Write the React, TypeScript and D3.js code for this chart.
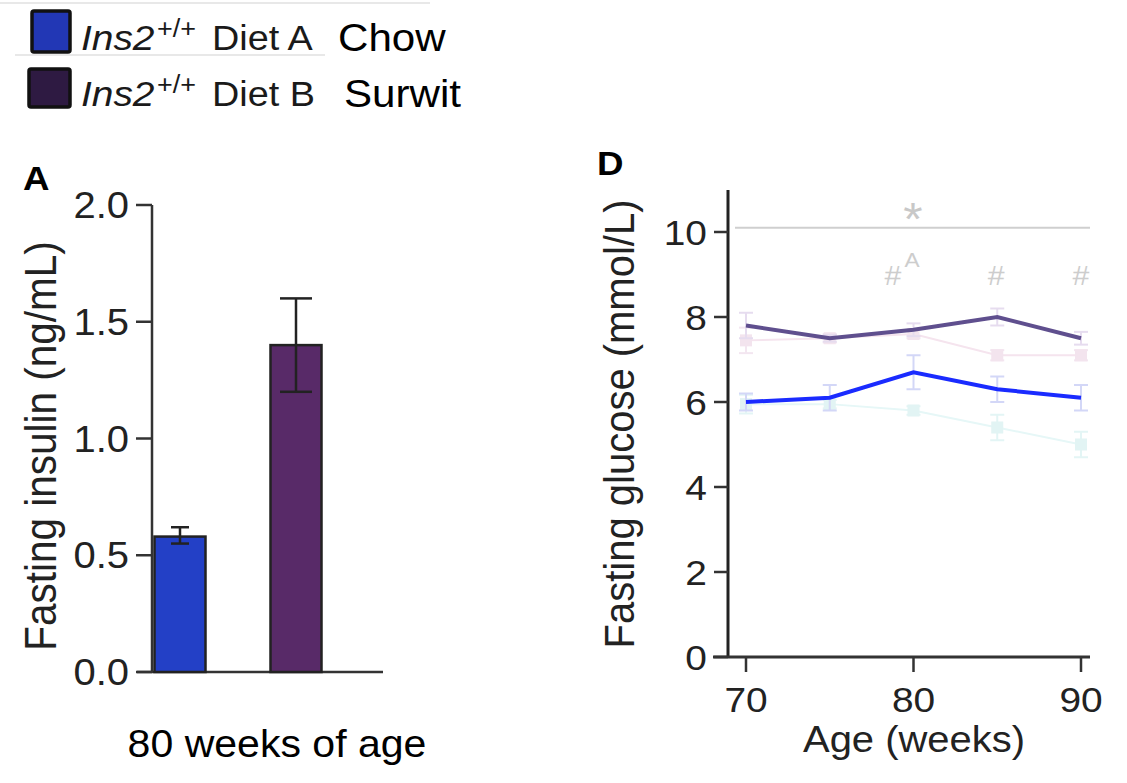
import React from "react";
import * as d3 from "d3";

const barGroups = ["Diet A", "Diet B"];
const barValues = [0.58, 1.4];
const barErrLow = [0.55, 1.2];
const barErrHigh = [0.62, 1.6];
const barColors = ["#2340c6", "#582a68"];
const barCapHalf = [9, 16];
const insulinTicks = [0, 0.5, 1.0, 1.5, 2.0];

const ages = [70, 75, 80, 85, 90];
const purpleVals = [7.8, 7.5, 7.7, 8.0, 7.5];
const purpleErr = [0.3, 0.08, 0.15, 0.2, 0.15];
const blueVals = [6.0, 6.1, 6.7, 6.3, 6.1];
const blueErr = [0.2, 0.3, 0.4, 0.3, 0.3];
const pinkVals = [7.45, 7.5, 7.6, 7.1, 7.1];
const pinkErr = [0.3, 0.1, 0.1, 0.12, 0.12];
const cyanVals = [5.95, 5.95, 5.8, 5.4, 5.0];
const cyanErr = [0.22, 0.1, 0.1, 0.3, 0.3];
const glucoseTicks = [0, 2, 4, 6, 8, 10];
const ageTicks = [70, 80, 90];
const sigLevel = 10.1;

const FONT = "'Liberation Sans', Arial, Helvetica, sans-serif";
const SX = 1.08;

type TP = {
  x: number;
  y: number;
  size: number;
  anchor?: "start" | "middle" | "end";
  rot?: boolean;
  fill?: string;
  weight?: string;
  italic?: boolean;
  children: React.ReactNode;
};

function T({ x, y, size, anchor = "start", rot = false, fill = "#1a1a1a", weight, italic, children }: TP) {
  return (
    <text
      transform={`translate(${x},${y}) scale(${SX},1)${rot ? " rotate(-90)" : ""}`}
      fontSize={size}
      textAnchor={anchor}
      fill={fill}
      fontWeight={weight}
      fontStyle={italic ? "italic" : undefined}
    >
      {children}
    </text>
  );
}

export default function App() {
  // Panel A scales
  const yA = d3.scaleLinear().domain([0, 2]).range([672, 205]);
  const xA = d3.scaleOrdinal<string, number>().domain(barGroups).range([180, 296]);
  const bw = 51;
  const axA = 152;

  // Panel D scales
  const yD = d3.scaleLinear().domain([0, 10]).range([657, 232]);
  const xD = d3.scaleLinear().domain([70, 90]).range([746, 1081]);
  const axD = 728;
  const line = d3
    .line<number>()
    .x((_, i) => xD(ages[i]))
    .y((d) => yD(d));

  const errBars = (vals: number[], errs: number[], color: string, key: string) =>
    vals.map((v, i) => {
      const x = xD(ages[i]);
      const y1 = yD(v - errs[i]);
      const y2 = yD(v + errs[i]);
      return (
        <g key={key + i} stroke={color} strokeWidth={2}>
          <line x1={x} x2={x} y1={y1} y2={y2} />
          <line x1={x - 7} x2={x + 7} y1={y1} y2={y1} />
          <line x1={x - 7} x2={x + 7} y1={y2} y2={y2} />
        </g>
      );
    });

  const markers = (vals: number[], color: string, key: string) =>
    vals.map((v, i) => (
      <rect key={key + i} x={xD(ages[i]) - 6} y={yD(v) - 6} width={12} height={12} fill={color} />
    ));

  return (
    <svg
      width={1127}
      height={783}
      style={{ position: "absolute", left: 0, top: 0, background: "#fff" }}
      fontFamily={FONT}
    >
      {/* Legend */}
      <line x1={0} x2={430} y1={3} y2={3} stroke="#e8e8e8" strokeWidth={2} />
      <line x1={15} x2={325} y1={55} y2={55} stroke="#e8e8e8" strokeWidth={2} />
      <rect x={32} y={11} width={38} height={41} fill="#2237b5" stroke="#111" strokeWidth={3.5} rx={2} />
      <T x={81} y={50} size={36} italic>Ins2</T>
      <T x={157} y={37} size={25}>+/+</T>
      <T x={212} y={50} size={35}>Diet A</T>
      <T x={338} y={51} size={39} fill="#000">Chow</T>
      <rect x={29} y={69} width={41} height={38} fill="#2e1a42" stroke="#111" strokeWidth={3.5} rx={2} />
      <T x={81} y={106} size={36} italic>Ins2</T>
      <T x={157} y={93} size={25}>+/+</T>
      <T x={212} y={106} size={35}>Diet B</T>
      <T x={344} y={107} size={39} fill="#000">Surwit</T>

      {/* Panel A */}
      <T x={23} y={190} size={34} weight="bold" fill="#000">A</T>
      <line x1={axA} x2={axA} y1={yA(2)} y2={yA(0)} stroke="#333" strokeWidth={2.5} />
      <line x1={137} x2={383} y1={yA(0)} y2={yA(0)} stroke="#333" strokeWidth={2.5} />
      {insulinTicks.map((t) => (
        <g key={"ta" + t}>
          <line x1={136} x2={axA} y1={yA(t)} y2={yA(t)} stroke="#333" strokeWidth={2.5} />
          <T x={129} y={yA(t) + 13} size={37} anchor="end" fill="#222">
            {t.toFixed(1)}
          </T>
        </g>
      ))}
      <T x={56} y={446} size={40.5} anchor="middle" rot fill="#222">
        Fasting insulin (ng/mL)
      </T>
      {barGroups.map((g, i) => {
        const cx = xA(g);
        return (
          <g key={g}>
            <rect
              x={cx - bw / 2}
              y={yA(barValues[i])}
              width={bw}
              height={yA(0) - yA(barValues[i])}
              fill={barColors[i]}
              stroke="#222"
              strokeWidth={2.5}
            />
            <g stroke="#222" strokeWidth={2.5}>
              <line x1={cx} x2={cx} y1={yA(barErrLow[i])} y2={yA(barErrHigh[i])} />
              <line x1={cx - barCapHalf[i]} x2={cx + barCapHalf[i]} y1={yA(barErrLow[i])} y2={yA(barErrLow[i])} />
              <line x1={cx - barCapHalf[i]} x2={cx + barCapHalf[i]} y1={yA(barErrHigh[i])} y2={yA(barErrHigh[i])} />
            </g>
          </g>
        );
      })}
      <T x={277} y={757} size={38} anchor="middle" fill="#000">80 weeks of age</T>

      {/* Panel D */}
      <T x={597} y={175} size={34} weight="bold" fill="#000">D</T>
      <line x1={axD} x2={axD} y1={190} y2={yD(0)} stroke="#222" strokeWidth={3} />
      <line x1={713} x2={1090} y1={yD(0)} y2={yD(0)} stroke="#333" strokeWidth={3} />
      {glucoseTicks.map((t) => (
        <g key={"td" + t}>
          <line x1={714} x2={axD} y1={yD(t)} y2={yD(t)} stroke="#333" strokeWidth={2.5} />
          <T x={707} y={yD(t) + 13} size={36} anchor="end" fill="#222">
            {t}
          </T>
        </g>
      ))}
      {ageTicks.map((t) => (
        <g key={"tx" + t}>
          <line x1={xD(t)} x2={xD(t)} y1={yD(0)} y2={yD(0) + 15} stroke="#333" strokeWidth={2.5} />
          <T x={xD(t)} y={712} size={36} anchor="middle" fill="#222">
            {t}
          </T>
        </g>
      ))}
      <T x={914} y={752} size={37} anchor="middle" fill="#222">Age (weeks)</T>
      <T x={634} y={424} size={40} anchor="middle" rot fill="#222">
        Fasting glucose (mmol/L)
      </T>

      {/* significance */}
      <line x1={735} x2={1090} y1={yD(sigLevel)} y2={yD(sigLevel)} stroke="#cfcfcf" strokeWidth={2} />
      <T x={913} y={235} size={46} anchor="middle" fill="#c8c8c8">*</T>
      <T x={893} y={285} size={28} anchor="middle" fill="#cdcdcd">#</T>
      <T x={912} y={267} size={21} anchor="middle" fill="#cdcdcd">A</T>
      <T x={xD(85) - 1} y={285} size={28} anchor="middle" fill="#cdcdcd">#</T>
      <T x={xD(90)} y={285} size={28} anchor="middle" fill="#cdcdcd">#</T>

      {/* faded series */}
      {errBars(pinkVals, pinkErr, "#f3e6f0", "pe")}
      <path d={line(pinkVals) || ""} fill="none" stroke="#f5e4ee" strokeWidth={2} />
      {markers(pinkVals, "#f3e4ee", "pm")}
      {errBars(cyanVals, cyanErr, "#e3f5f5", "ce")}
      <path d={line(cyanVals) || ""} fill="none" stroke="#e6f7f7" strokeWidth={2} />
      {markers(cyanVals, "#e2f4f4", "cm")}

      {errBars(purpleVals, purpleErr, "#e6dcef", "pue")}
      {errBars(blueVals, blueErr, "#d3d7f7", "be")}

      <path d={line(purpleVals) || ""} fill="none" stroke="#5f4f8e" strokeWidth={4} />
      <path d={line(blueVals) || ""} fill="none" stroke="#1a2bff" strokeWidth={4} />
    </svg>
  );
}
